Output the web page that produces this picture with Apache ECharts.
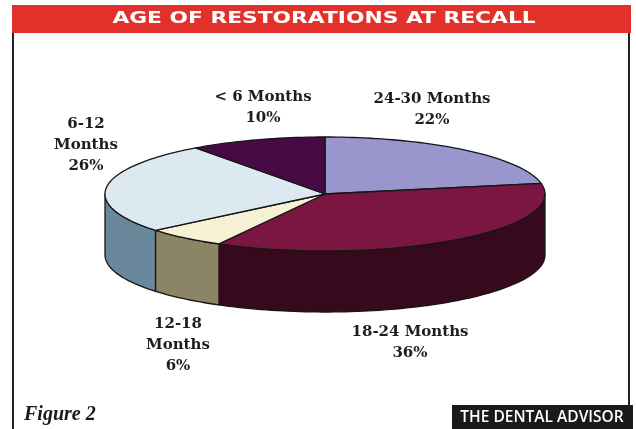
<!DOCTYPE html>
<html>
<head>
<meta charset="utf-8">
<script src="https://cdn.jsdelivr.net/npm/echarts@6/dist/echarts.min.js"></script>
<style>html,body{margin:0;padding:0;background:#fff}#c{width:636px;height:429px}</style>
</head>
<body>
<div id="c"></div>
<script>
// ---- data ----
const categories = ['24-30 Months', '18-24 Months', '12-18 Months', '6-12 Months', '< 6 Months'];
const percents = [22, 36, 6, 26, 10];
const titleText = 'AGE OF RESTORATIONS AT RECALL';
const figureText = 'Figure 2';
const sourceText = 'THE DENTAL ADVISOR';

// ---- styles / layout ----
const topColors = ['#9896cc', '#7b1642', '#f6f1d3', '#dde9f1', '#470a45'];
const sideColors = ['#5e5c8a', '#36091d', '#8b8565', '#6a889b', '#2c062c'];
const PIE = { cx: 325, cy: 194, rx: 220, ry: 57, depth: 61 };
const labelAnchors = [[432, 89], [410, 322], [178, 314], [86, 114], [263, 87]];
const labelWrap = [false, false, true, true, false];

const total = percents.reduce((a, b) => a + b, 0);
const starts = [];
let acc = 0;
percents.forEach(v => { starts.push(acc); acc += v; });

function pt(t, dy) {
  return [PIE.cx + PIE.rx * Math.sin(t), PIE.cy - PIE.ry * Math.cos(t) + (dy || 0)];
}
function arc(a, b, dy) {
  const n = Math.max(2, Math.ceil((b - a) / (Math.PI / 120)));
  const out = [];
  for (let k = 0; k <= n; k++) out.push(pt(a + (b - a) * k / n, dy));
  return out;
}
function labelText(i) {
  const c = categories[i];
  const name = labelWrap[i] ? c.replace(' ', '\n') : c;
  return name + '\n' + percents[i] + '%';
}

const chart = echarts.init(document.getElementById('c'), null, { renderer: 'canvas' });

chart.setOption({
  animation: false,
  backgroundColor: '#ffffff',
  graphic: [
    { type: 'rect', shape: { x: 12, y: 5, width: 619, height: 28 }, style: { fill: '#e2312b' } },
    { type: 'text', x: 324, y: 19, scaleX: 1.36,
      style: { text: titleText, fill: '#ffffff', font: 'bold 16px "DejaVu Sans"', textAlign: 'center', textVerticalAlign: 'middle' } },
    { type: 'line', shape: { x1: 13, y1: 33, x2: 13, y2: 429 }, style: { stroke: '#222', lineWidth: 2 } },
    { type: 'line', shape: { x1: 629, y1: 33, x2: 629, y2: 405 }, style: { stroke: '#222', lineWidth: 2 } },
    { type: 'rect', shape: { x: 452, y: 405, width: 181, height: 24 }, style: { fill: '#1a1a1a' } },
    { type: 'text', x: 542, y: 418,
      style: { text: sourceText, fill: '#ffffff', font: '600 15.5px "Open Sans"', textAlign: 'center', textVerticalAlign: 'middle' } },
    { type: 'text', x: 24, y: 415,
      style: { text: figureText, fill: '#1a1a1a', font: 'italic bold 20px "Liberation Serif"', textAlign: 'left', textVerticalAlign: 'middle' } }
  ],
  series: [{
    type: 'custom',
    coordinateSystem: 'none',
    data: percents.map((v, i) => [i, v]),
    renderItem: function (params, api) {
      const i = params.dataIndex;
      const v = api.value(1);
      const a = starts[i] / total * Math.PI * 2;
      const b = a + v / total * Math.PI * 2;
      const children = [];
      const wa = Math.max(a, Math.PI / 2);
      const wb = Math.min(b, Math.PI * 1.5);
      if (wa < wb) {
        const pts = arc(wa, wb, 0).concat(arc(wa, wb, PIE.depth).reverse());
        children.push({ type: 'polygon', shape: { points: pts },
          style: { fill: sideColors[i], stroke: '#161616', lineWidth: 1.3, lineJoin: 'round' } });
      }
      const topPts = [[PIE.cx, PIE.cy]].concat(arc(a, b, 0));
      children.push({ type: 'polygon', shape: { points: topPts },
        style: { fill: topColors[i], stroke: '#161616', lineWidth: 1.3, lineJoin: 'round' } });
      children.push({ type: 'text', x: labelAnchors[i][0], y: labelAnchors[i][1],
        style: { text: labelText(i), fill: '#1e1e1e', font: 'bold 15px "DejaVu Serif"',
          textAlign: 'center', textVerticalAlign: 'top', lineHeight: 21 } });
      return { type: 'group', children: children };
    }
  }]
});
</script>
</body>
</html>
